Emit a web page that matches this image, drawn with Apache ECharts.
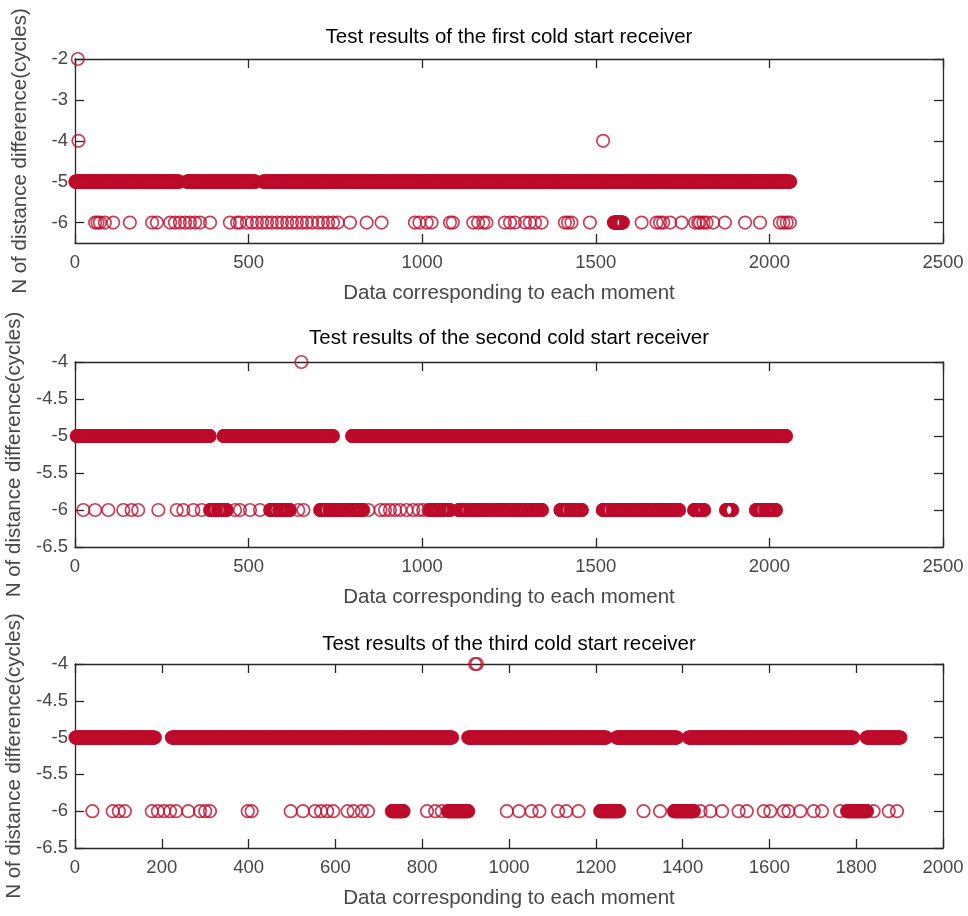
<!DOCTYPE html>
<html>
<head>
<meta charset="utf-8">
<script src="https://cdn.jsdelivr.net/npm/echarts@6/dist/echarts.min.js"></script>
<style>
  html, body { margin: 0; padding: 0; background: #fff; }
  #box { width: 968px; height: 916px; }
</style>
</head>
<body>
<div id="box"></div>
<script>
// receiver 1
var p1Minus5Runs = [[1, 300], [322, 520], [542, 2060]];
var p1Minus6 = [58, 65, 72, 86, 110, 158, 222, 236, 274, 288, 302, 317, 331, 346, 360, 389,
  446, 467, 475, 495, 510, 524, 539, 553, 567, 582, 596, 611, 625, 639, 654, 668, 683, 700,
  714, 729, 743, 757, 792, 840, 883, 979, 992, 1013, 1027, 1080, 1088, 1147, 1161, 1176, 1185,
  1238, 1253, 1267, 1296, 1310, 1325, 1344, 1411, 1420, 1430, 1483, 1632, 1675, 1685, 1694,
  1714, 1747, 1786, 1795, 1800, 1810, 1819, 1838, 1872, 1930, 1973, 2030, 2040, 2050, 2059];
var p1Minus6Runs = [[1552, 1578]];
var p1Outliers = [[8, -2], [10, -4], [1521, -4]];

// receiver 2
var p2Minus5Runs = [[5, 388], [428, 743], [798, 2048]];
var p2Minus6 = [24, 58, 96, 139, 163, 182, 240, 293, 312, 341, 365, 461, 475, 504, 533, 643,
  658, 845, 880, 893, 907, 922, 936, 955, 974, 990, 1003, 1018, 1032, 1050, 1065];
var p2Minus6Runs = [[389, 406], [412, 437], [562, 582], [588, 619], [706, 727], [733, 790],
  [798, 830], [1022, 1050], [1056, 1080], [1105, 1132], [1138, 1174], [1180, 1215],
  [1221, 1262], [1268, 1300], [1306, 1345], [1398, 1422], [1428, 1460], [1520, 1542],
  [1548, 1587], [1593, 1630], [1636, 1674], [1680, 1740], [1783, 1812], [1875, 1893],
  [1961, 1982], [1988, 2019]];
var p2Outliers = [[652, -4]];

// receiver 3
var p3Minus5Runs = [[1, 184], [223, 869], [906, 1224], [1248, 1387], [1414, 1793], [1824, 1902]];
var p3Minus6 = [40, 87, 101, 115, 177, 191, 205, 219, 233, 261, 288, 300, 311, 398, 407, 497,
  525, 553, 567, 581, 595, 628, 642, 661, 675, 811, 830, 845, 995, 1023, 1052, 1070, 1113,
  1132, 1160, 1310, 1348, 1441, 1464, 1491, 1529, 1548, 1587, 1602, 1633, 1644, 1671, 1702,
  1721, 1763, 1840, 1875, 1894];
var p3Minus6Runs = [[730, 757], [859, 906], [1210, 1254], [1380, 1426], [1779, 1825]];
var p3Outliers = [[922, -4], [926, -4]];

var titles = ['Test results of the first cold start receiver',
  'Test results of the second cold start receiver',
  'Test results of the third cold start receiver'];
var xMax = [2500, 2500, 2000];
var xStep = [500, 500, 200];
var yMin = [-6.5, -6.5, -6.5];
var yMax = [-2, -4, -4];
var p1YTicks = [-6, -5, -4, -3, -2];

var red = '#be0d2d';
var axisColor = '#262626';
var textColor = '#474747';
var font = 'Liberation Sans, Arial, sans-serif';

function points(list, runs, y) {
  var out = list.map(function (x) { return [x, y] });
  runs.forEach(function (r) {
    for (var i = r[0]; i <= r[1]; i++) out.push([i, y]);
  });
  return out;
}

var panelData = [
  points([], p1Minus5Runs, -5).concat(points(p1Minus6, p1Minus6Runs, -6), p1Outliers),
  points([], p2Minus5Runs, -5).concat(points(p2Minus6, p2Minus6Runs, -6), p2Outliers),
  points([], p3Minus5Runs, -5).concat(points(p3Minus6, p3Minus6Runs, -6), p3Outliers)
];

var grids = [{ top: 59, height: 184 }, { top: 362, height: 185 }, { top: 664, height: 184 }];
var titleTops = [27, 328, 634];

var lineStyle = { color: axisColor, width: 1.3 };
var option = { animation: false, title: [], grid: [], xAxis: [], yAxis: [], series: [] };

function plain(v) { return String(v) }

for (var p = 0; p < 3; p++) {
  option.grid.push({
    left: 75, right: 25, top: grids[p].top, height: grids[p].height,
    containLabel: false, outerBoundsMode: 'none'
  });
  option.title.push({
    text: titles[p], left: 509, top: titleTops[p], textAlign: 'center', padding: 0,
    textStyle: { fontSize: 20.5, fontWeight: 'normal', color: '#000', fontFamily: font }
  });
  var xBase = {
    type: 'value', gridIndex: p, min: 0, max: xMax[p], interval: xStep[p],
    axisLine: { show: true, onZero: false, lineStyle: lineStyle },
    axisTick: { show: true, inside: true, length: 9, lineStyle: lineStyle },
    splitLine: { show: false }
  };
  option.xAxis.push(Object.assign({}, xBase, {
    position: 'bottom',
    axisLabel: { color: textColor, fontSize: 18.5, margin: 10, fontFamily: font, formatter: plain },
    name: 'Data corresponding to each moment', nameLocation: 'middle', nameGap: 40,
    nameTextStyle: { color: textColor, fontSize: 20.5, fontFamily: font }
  }));
  option.xAxis.push(Object.assign({}, xBase, { position: 'top', axisLabel: { show: false } }));

  var yBase = {
    type: 'value', gridIndex: p, min: yMin[p], max: yMax[p], interval: 0.5,
    axisLine: { show: true, onZero: false, lineStyle: lineStyle },
    axisTick: { show: true, inside: true, length: 9, lineStyle: lineStyle },
    splitLine: { show: false }
  };
  if (p === 0) {
    yBase.axisTick = Object.assign({}, yBase.axisTick, { customValues: p1YTicks });
  }
  var yLabel = { color: textColor, fontSize: 18.5, margin: 7, fontFamily: font, formatter: plain };
  if (p === 0) yLabel.customValues = p1YTicks;
  option.yAxis.push(Object.assign({}, yBase, {
    position: 'left', axisLabel: yLabel,
    name: 'N of distance difference(cycles)', nameLocation: 'middle', nameGap: 44,
    nameTextStyle: { color: textColor, fontSize: 20.5, fontFamily: font }
  }));
  option.yAxis.push(Object.assign({}, yBase, { position: 'right', axisLabel: { show: false } }));

  option.series.push({
    type: 'scatter', xAxisIndex: 2 * p, yAxisIndex: 2 * p,
    symbol: 'circle', symbolSize: 12.5, progressive: 0, clip: false,
    itemStyle: { color: 'rgba(0,0,0,0)', borderColor: red, borderWidth: 1.7 },
    data: panelData[p]
  });
}

var myChart = echarts.init(document.getElementById('box'));
myChart.setOption(option);
</script>
</body>
</html>
